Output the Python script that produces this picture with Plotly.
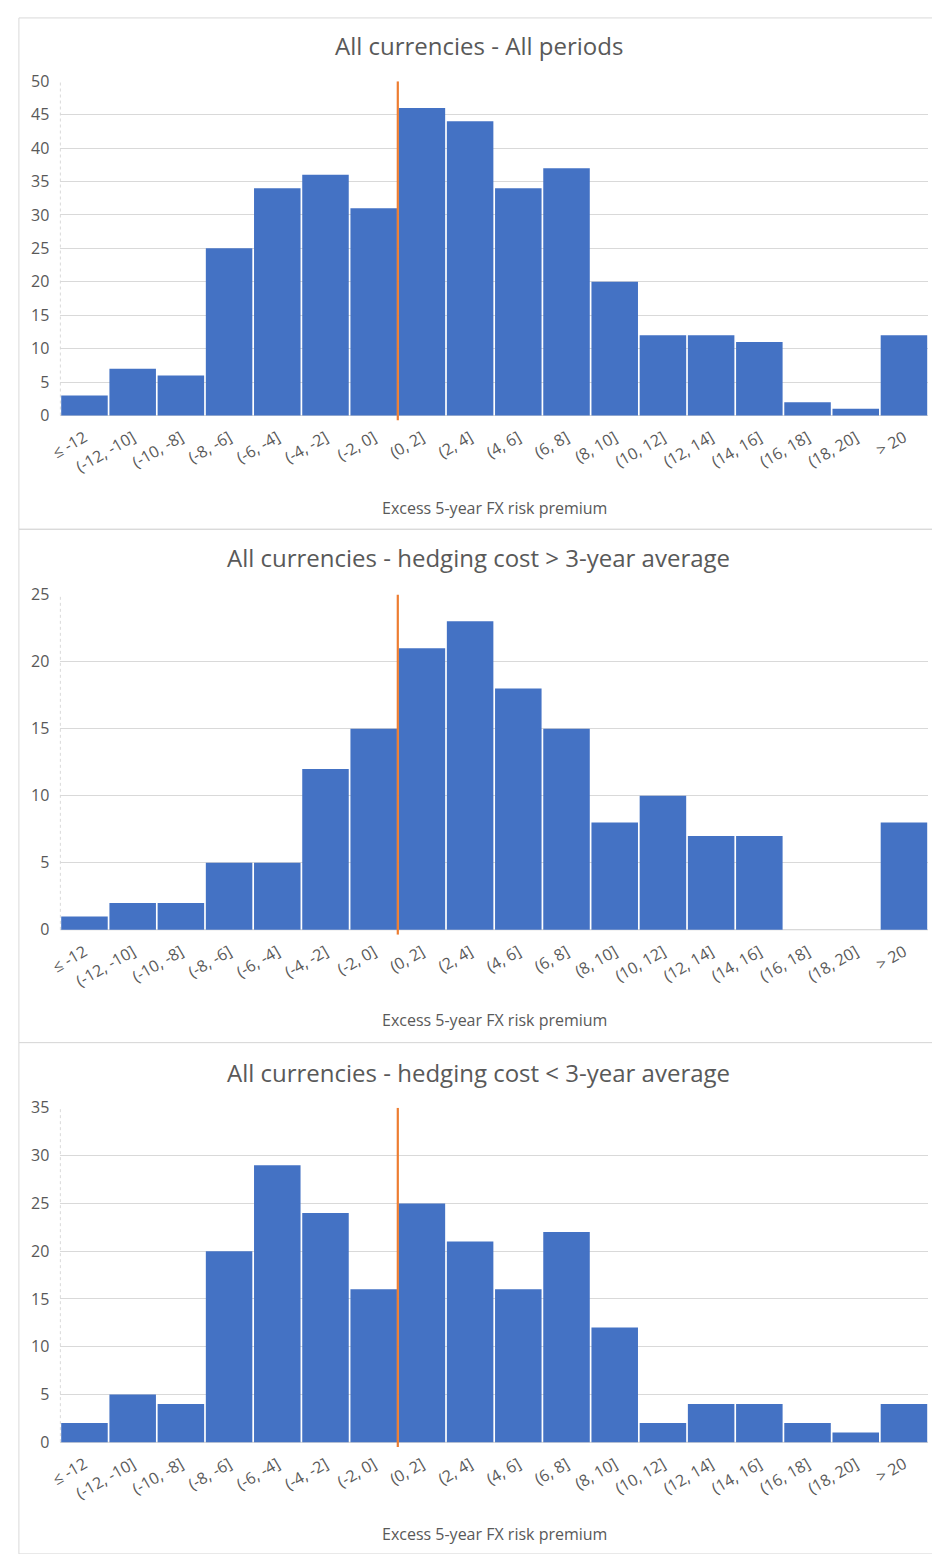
import plotly.graph_objects as go

categories = ["≤ -12", "(-12, -10]", "(-10, -8]", "(-8, -6]", "(-6, -4]", "(-4, -2]", "(-2, 0]",
              "(0, 2]", "(2, 4]", "(4, 6]", "(6, 8]", "(8, 10]", "(10, 12]", "(12, 14]",
              "(14, 16]", "(16, 18]", "(18, 20]", "> 20"]
all_periods = [3, 7, 6, 25, 34, 36, 31, 46, 44, 34, 37, 20, 12, 12, 11, 2, 1, 12]
hedge_above = [1, 2, 2, 5, 5, 12, 15, 21, 23, 18, 15, 8, 10, 7, 7, 0, 0, 8]
hedge_below = [2, 5, 4, 20, 29, 24, 16, 25, 21, 16, 22, 12, 2, 4, 4, 2, 1, 4]
titles = ["All currencies - All periods",
          "All currencies - hedging cost > 3-year average",
          "All currencies - hedging cost < 3-year average"]
y_max = [50, 25, 35]
y_dtick = [5, 5, 5]
zero_line_pos = 6.5  # boundary between (-2, 0] and (0, 2]
x_title = "Excess 5-year FX risk premium"

W, H = 932, 1554
BLUE = "#4472C4"
ORANGE = "#ED7D31"
GRAY_TXT = "#595959"
GRID = "#D9D9D9"
FONT = "Open Sans"

panels = [
    dict(top=7, bottom=524, ptop=71, pzero=409, pbot=414, title_y=35, xt_y=502),
    dict(top=524, bottom=1043, ptop=590, pzero=929, pbot=934, title_y=553, xt_y=1020),
    dict(top=1043, bottom=1560, ptop=1109, pzero=1447, pbot=1452, title_y=1073, xt_y=1540),
]
series = [all_periods, hedge_above, hedge_below]

x_left, x_right = 49, 928
xs = list(range(len(categories)))

fig = go.Figure()
layout = dict(
    width=W, height=H, margin=dict(l=0, r=0, t=0, b=0),
    paper_bgcolor="white", plot_bgcolor="white",
    showlegend=False, bargap=0.035,
    font=dict(family=FONT, color=GRAY_TXT),
)
annotations = []
shapes = []
for i, (vals, p) in enumerate(zip(series, panels)):
    n = "" if i == 0 else str(i + 1)
    xa, ya = "x" + n, "y" + n
    ppu = (p["pzero"] - p["ptop"]) / y_max[i]
    y_low = -(p["pbot"] - p["pzero"]) / ppu
    fig.add_trace(go.Bar(x=xs, y=vals, xaxis=xa, yaxis=ya,
                         marker=dict(color=BLUE, line=dict(width=0)),
                         hoverinfo="x+y"))
    fig.add_trace(go.Scatter(x=[zero_line_pos, zero_line_pos], y=[y_low, y_max[i]],
                             xaxis=xa, yaxis=ya, mode="lines",
                             line=dict(color=ORANGE, width=2.2), hoverinfo="skip"))
    layout["xaxis" + n] = dict(
        domain=[x_left / W, x_right / W], anchor=ya, range=[-0.5, len(categories) - 0.5],
        tickmode="array", tickvals=xs, ticktext=categories, tickangle=-30,
        tickfont=dict(size=16, color=GRAY_TXT), showgrid=False, zeroline=False,
        showline=False, ticks="", fixedrange=True, ticklabelstandoff=4,
    )
    layout["yaxis" + n] = dict(
        domain=[1 - p["pbot"] / H, 1 - p["ptop"] / H], anchor=xa,
        range=[y_low, y_max[i]], tickmode="linear", tick0=0, dtick=y_dtick[i],
        showgrid=True, gridcolor=GRID, gridwidth=1, zeroline=False, showline=False,
        tickfont=dict(size=16, color=GRAY_TXT), ticks="", fixedrange=True,
        ticklabelstandoff=10,
    )
    shapes.append(dict(type="line", xref="paper", yref=ya, x0=x_left / W, x1=x_right / W,
                       y0=0, y1=0, line=dict(color=GRID, width=1), layer="below"))
    shapes.append(dict(type="line", xref="paper", yref=ya, x0=x_left / W, x1=x_left / W,
                       y0=0, y1=y_max[i], line=dict(color=GRID, width=1, dash="dot"),
                       layer="below"))
    shapes.append(dict(type="rect", xref="paper", yref="paper", x0=7 / W, x1=940 / W,
                       y0=1 - p["bottom"] / H, y1=1 - p["top"] / H,
                       line=dict(color="#D9D9D9", width=1), layer="below"))
    annotations.append(dict(text=titles[i], xref="paper", yref="paper",
                            x=473 / W, y=1 - p["title_y"] / H, showarrow=False,
                            xanchor="center", yanchor="middle",
                            font=dict(size=24, color=GRAY_TXT, family=FONT)))
    annotations.append(dict(text=x_title, xref="paper", yref="paper",
                            x=489 / W, y=1 - p["xt_y"] / H, showarrow=False,
                            xanchor="center", yanchor="middle",
                            font=dict(size=16, color=GRAY_TXT, family=FONT)))

layout["annotations"] = annotations
layout["shapes"] = shapes
fig.update_layout(**layout)
fig.write_html("out.html", config={"displayModeBar": False},
               post_script="document.body.style.margin='0';document.body.style.overflow='hidden';")
